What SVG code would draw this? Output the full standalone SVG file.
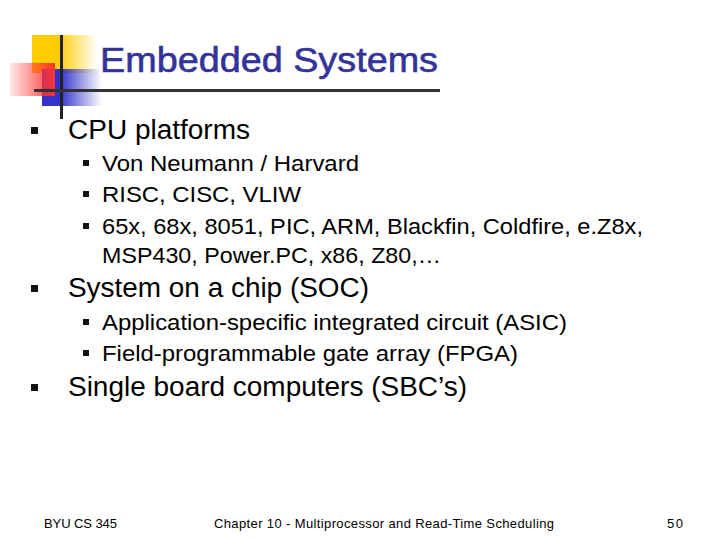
<svg xmlns="http://www.w3.org/2000/svg" width="720" height="540" viewBox="0 0 720 540">
<defs>
<linearGradient id="gy" x1="0" x2="1"><stop offset="0.4" stop-color="#ffcc00"/><stop offset="1" stop-color="#ffcc00" stop-opacity="0"/></linearGradient>
<linearGradient id="gr" x1="1" x2="0"><stop offset="0" stop-color="#ff3333"/><stop offset="1" stop-color="#ff3333" stop-opacity="0.1"/></linearGradient>
<linearGradient id="gb" x1="0" x2="1"><stop offset="0.3" stop-color="#3333cc"/><stop offset="1" stop-color="#3333cc" stop-opacity="0"/></linearGradient>
</defs>
<style>
text{font-family:"Liberation Sans",Arial,sans-serif;fill:#000}
.l1{font-size:27px}.l2{font-size:22.5px}.f{font-size:13px}
.b{fill:#111}
</style>
<rect width="720" height="540" fill="#fff"/>
<g id="logo">
<rect x="32" y="35" width="65" height="38" fill="url(#gy)"/>
<rect x="42" y="69" width="60" height="37" fill="url(#gb)"/>
<rect x="10" y="63" width="45" height="33" fill="url(#gr)"/>
<rect x="60" y="35" width="3" height="84" fill="#222"/>
<rect x="34" y="89" width="406" height="3" fill="#333"/>
</g>
<text x="100" y="72" textLength="338" lengthAdjust="spacingAndGlyphs" style="font-size:35px;fill:#333399;stroke:#333399;stroke-width:0.6">Embedded Systems</text>
<g id="bullets">
<rect class="b" x="31" y="127" width="7" height="7"/>
<text class="l1" x="68" y="139" textLength="182" lengthAdjust="spacingAndGlyphs">CPU platforms</text>
<rect class="b" x="83" y="160" width="6" height="6"/>
<text class="l2" x="102" y="171" textLength="257" lengthAdjust="spacingAndGlyphs">Von Neumann / Harvard</text>
<rect class="b" x="83" y="191" width="6" height="6"/>
<text class="l2" x="102" y="202" textLength="199" lengthAdjust="spacingAndGlyphs">RISC, CISC, VLIW</text>
<rect class="b" x="83" y="223" width="6" height="6"/>
<text class="l2" x="102" y="234" textLength="541" lengthAdjust="spacingAndGlyphs">65x, 68x, 8051, PIC, ARM, Blackfin, Coldfire, e.Z8x,</text>
<text class="l2" x="102" y="263" textLength="339" lengthAdjust="spacingAndGlyphs">MSP430, Power.PC, x86, Z80,…</text>
<rect class="b" x="31" y="285" width="7" height="7"/>
<text class="l1" x="68" y="297" textLength="301" lengthAdjust="spacingAndGlyphs">System on a chip (SOC)</text>
<rect class="b" x="83" y="319" width="6" height="6"/>
<text class="l2" x="102" y="330" textLength="465" lengthAdjust="spacingAndGlyphs">Application-specific integrated circuit (ASIC)</text>
<rect class="b" x="83" y="350" width="6" height="6"/>
<text class="l2" x="102" y="361" textLength="416" lengthAdjust="spacingAndGlyphs">Field-programmable gate array (FPGA)</text>
<rect class="b" x="31" y="384" width="7" height="7"/>
<text class="l1" x="68" y="396" textLength="399" lengthAdjust="spacingAndGlyphs">Single board computers (SBC’s)</text>
</g>
<text class="f" x="44" y="528" textLength="73">BYU CS 345</text>
<text class="f" x="214" y="528" textLength="340">Chapter 10 - Multiprocessor and Read-Time Scheduling</text>
<text class="f" x="667" y="528" textLength="16">50</text>
</svg>
